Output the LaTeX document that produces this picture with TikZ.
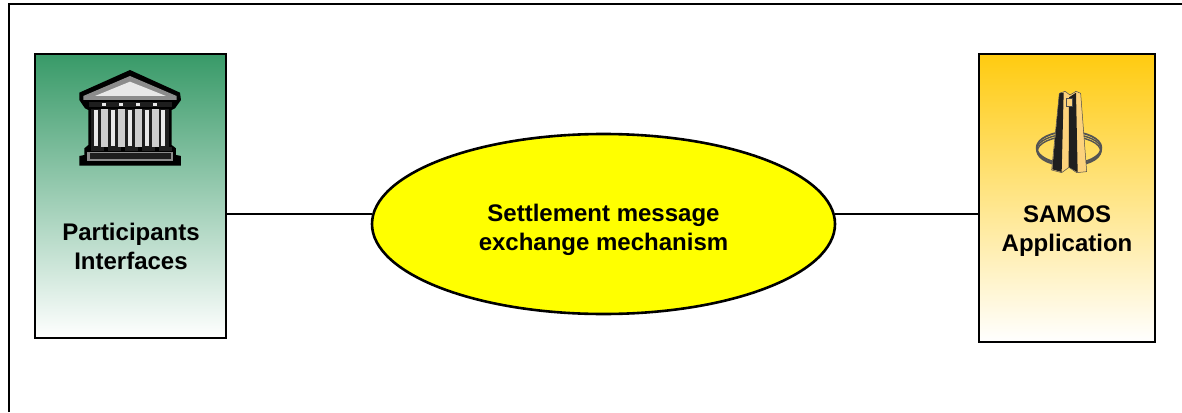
\documentclass[tikz,border=0pt]{standalone}
\usepackage{fontspec}
\setmainfont{Liberation Sans}
\usetikzlibrary{shapes.geometric}
\definecolor{gtop}{HTML}{389A68}
\definecolor{ytop}{HTML}{FFCB10}
\definecolor{yel}{RGB}{255,255,0}
\definecolor{dk}{HTML}{1E1E1E}
\definecolor{md}{HTML}{8C8C8C}
\definecolor{lt}{HTML}{CDCDCD}
\definecolor{vl}{HTML}{E8E8E8}
\definecolor{cream}{HTML}{FCD27C}
\tikzset{
  x=1pt,y=-1pt,
  frameline/.style={line width=2.8pt,black},
  boxbase/.style={draw=black,line width=2.6pt,rectangle,inner sep=0pt,outer sep=0pt},
  label/.style={font=\fontsize{24}{29}\selectfont\bfseries,align=center,inner sep=0pt},
  link/.style={line width=2.6pt,black},
}
\begin{document}
\begin{tikzpicture}
\useasboundingbox (0,0) rectangle (1182,412);
\fill[white] (0,0) rectangle (1182,412);
\draw[frameline] (9,412) -- (9,4) -- (1182,4);

\node[boxbase,minimum width=191pt,minimum height=284pt,top color=gtop,bottom color=white] (left) at (130.5,196) {};
\node[boxbase,minimum width=176pt,minimum height=288pt,top color=ytop,bottom color=white] (right) at (1067,198) {};
\node[ellipse,draw=black,line width=2.6pt,fill=yel,minimum width=463pt,minimum height=180pt,inner sep=0pt,outer sep=0pt] (mech) at (603.5,224) {};
\coordinate (linky) at (0,214);
\draw[link] (left.east |- linky) -- (mech.west |- linky);
\draw[link] (mech.east |- linky) -- (right.west |- linky);

\node[label] (ltext) at (131,246.5) {Participants\\Interfaces};
\node[label] (mtext) at (603.5,229.5) {Settlement message\\exchange mechanism};
\node[label] (rtext) at (1067,231) {SAMOS\\Application};

% temple
\begin{scope}[shift={(30,50)},x=0.3333pt,y=-0.3333pt]
\fill[black] (300,60) -- (450,128) -- (453,150) -- (435,175) -- (425,180) -- (425,285) -- (438,295) -- (438,315) -- (453,318) -- (453,347) -- (148,347) -- (148,318) -- (163,315) -- (163,295) -- (175,285) -- (175,180) -- (165,175) -- (148,150) -- (148,128) -- cycle;
\fill[md] (300,78) -- (440,138) -- (440,150) -- (160,150) -- (160,138) -- cycle;
\fill[vl] (300,95) -- (408,138) -- (195,138) -- cycle;
\fill[dk] (178,155) rectangle (425,172);
\foreach \a in {215,267,318,369} \fill[vl] (\a,158) rectangle (\a+12,168);
\fill[lt] (186,176) rectangle (416,292);
\foreach \a/\b in {182/192,233/242,284/293,335/344,386/393} {
  \fill[dk] (\a,178) rectangle (\a+30,292);
  \fill[vl] (\b,180) rectangle (\b+12,288);
  \fill[dk] (\a,292) rectangle (\a+40,303);
}
\fill[md] (172,305) rectangle (428,334);
\fill[dk] (180,308) rectangle (422,326);
\end{scope}

% monument
\begin{scope}[shift={(970,50)},x=0.3333pt,y=-0.3333pt]
\draw[md!60!black,line width=1.8pt] (297,293) ellipse [x radius=97,y radius=48];
\draw[md!60!black,line width=1.4pt] (297,299) ellipse [x radius=97,y radius=46];
\draw[md!60!black,line width=1.4pt] (297,304) ellipse [x radius=95,y radius=44];
\fill[cream] (268,130) -- (285,124) -- (300,135) -- (318,124) -- (332,130) -- (350,365) -- (320,368) -- (297,352) -- (275,368) -- (245,360) -- cycle;
\fill[black!88] (268,130) -- (281,128) -- (275,366) -- (247,358) -- cycle;
\fill[black!88] (297,142) -- (318,128) -- (323,367) -- (296,351) -- cycle;
\draw[black!70,line width=0.5pt] (268,130) -- (285,124) -- (300,135) -- (318,124) -- (332,130) -- (350,365) -- (320,368) -- (297,352) -- (275,368) -- (245,360) -- cycle;
\fill[cream] (289,146) rectangle (307,168);
\draw[black!70,line width=0.5pt] (289,146) rectangle (307,168);
\end{scope}
\end{tikzpicture}
\end{document}
